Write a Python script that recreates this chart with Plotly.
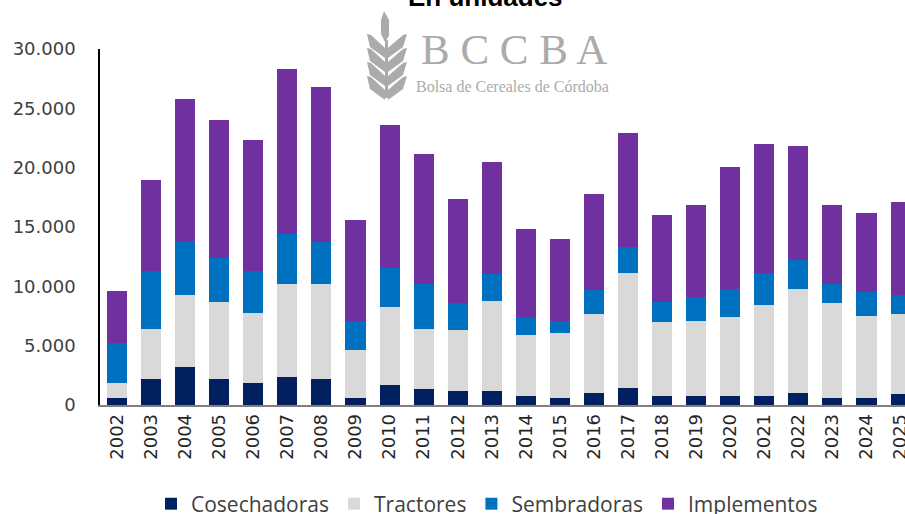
import plotly.graph_objects as go

years = [str(y) for y in range(2002, 2026)]
cosechadoras = [620, 2220, 3170, 2220, 1830, 2330, 2220, 620, 1660, 1380, 1150, 1150,
                730, 620, 1040, 1400, 730, 730, 730, 730, 1040, 620, 620, 900]
tractores = [1210, 4180, 6070, 6480, 5920, 7840, 7950, 4040, 6620, 5020, 5140, 7580,
             5140, 5420, 6600, 9750, 6240, 6370, 6660, 7720, 8760, 7950, 6880, 6740]
sembradoras = [3370, 4860, 4600, 3660, 3510, 4230, 3530, 2420, 3260, 3770, 2280, 2280,
               1520, 1040, 2020, 2140, 1730, 2000, 2380, 2700, 2420, 1620, 2020, 1600]
implementos = [4430, 7690, 11910, 11620, 11090, 13880, 13120, 8510, 12020, 10950, 8780, 9430,
               7410, 6880, 8090, 9600, 7310, 7720, 10310, 10810, 9600, 6630, 6630, 7840]

series = [
    ("Cosechadoras", cosechadoras, "#002060"),
    ("Tractores", tractores, "#D9D9D9"),
    ("Sembradoras", sembradoras, "#0070C0"),
    ("Implementos", implementos, "#7030A0"),
]

fig = go.Figure()
for name, vals, col in series:
    fig.add_trace(go.Bar(x=years, y=vals, name=name, marker=dict(color=col, line=dict(width=0)),
                         hoverinfo="skip"))

W, H = 905, 514
# plot area in window pixels
L, R, T, B = 100, 905, 49, 405


def px(x):
    return (x - L) / (R - L)


def py(y):
    return (B - y) / (B - T)


shapes = []
grey = "#ABABAB"


def poly(pts):
    d = "M " + " L ".join(f"{px(a):.5f},{py(b):.5f}" for a, b in pts) + " Z"
    return dict(type="path", path=d, xref="paper", yref="paper", fillcolor=grey,
                line=dict(width=0), layer="above")


# wheat watermark (decorative)
shapes.append(poly([(384, 11), (389, 20), (389, 36), (385, 42), (381, 34), (381, 20)]))
for yb in [47, 61, 75, 89]:
    shapes.append(poly([(385, yb + 1), (385, yb + 11), (370, yb), (367, yb - 13), (371, yb - 12)]))
    shapes.append(poly([(388, yb + 1), (388, yb + 11), (403, yb), (407, yb - 13), (403, yb - 12)]))
shapes.append(poly([(385, 40), (388, 40), (388, 98), (385, 98)]))

annotations = [
    dict(text="<b>En unidades</b>", x=px(485), y=py(14), xref="paper", yref="paper",
         showarrow=False, font=dict(family="Liberation Sans", size=26, color="#000000"),
         xanchor="center", yanchor="bottom"),
    dict(text="B C C B A", x=px(514), y=py(49), xref="paper", yref="paper",
         showarrow=False, font=dict(family="Liberation Serif", size=43, color=grey),
         xanchor="center", yanchor="middle"),
    dict(text="Bolsa de Cereales de Córdoba", x=px(512), y=py(86), xref="paper", yref="paper",
         showarrow=False, font=dict(family="Liberation Serif", size=16, color=grey),
         xanchor="center", yanchor="middle"),
]

fig.update_layout(
    width=W, height=H,
    margin=dict(l=L, r=W - R, t=T, b=H - B, pad=0, autoexpand=False),
    paper_bgcolor="white", plot_bgcolor="white",
    barmode="stack", bargap=0.41,
    xaxis=dict(type="category", range=[-0.5, 23.13], showgrid=False, tickangle=-90,
               showline=True, linecolor="#7F7F7F", linewidth=1.5, ticks="", automargin=False,
               tickfont=dict(family="DejaVu Sans", size=18, color="#262626"), fixedrange=True),
    yaxis=dict(range=[0, 30000], tickvals=[0, 5000, 10000, 15000, 20000, 25000, 30000],
               ticktext=["0", "5.000", "10.000", "15.000", "20.000", "25.000", "30.000"],
               showgrid=False, zeroline=False, showline=True, linecolor="#000000", linewidth=1.5,
               ticks="", ticklabelstandoff=19, automargin=False,
               tickfont=dict(family="DejaVu Sans", size=18, color="#404040"), fixedrange=True),
    legend=dict(orientation="h", x=px(487), xanchor="center", y=py(504), yanchor="middle",
                font=dict(family="Open Sans", size=21, color="#404040"), traceorder="normal",
                itemclick=False, itemdoubleclick=False, itemwidth=30),
    shapes=shapes,
    annotations=annotations,
)

fig.write_html("out.html", config={"displayModeBar": False},
               post_script="document.body.style.margin='0';document.body.style.overflow='hidden';")
